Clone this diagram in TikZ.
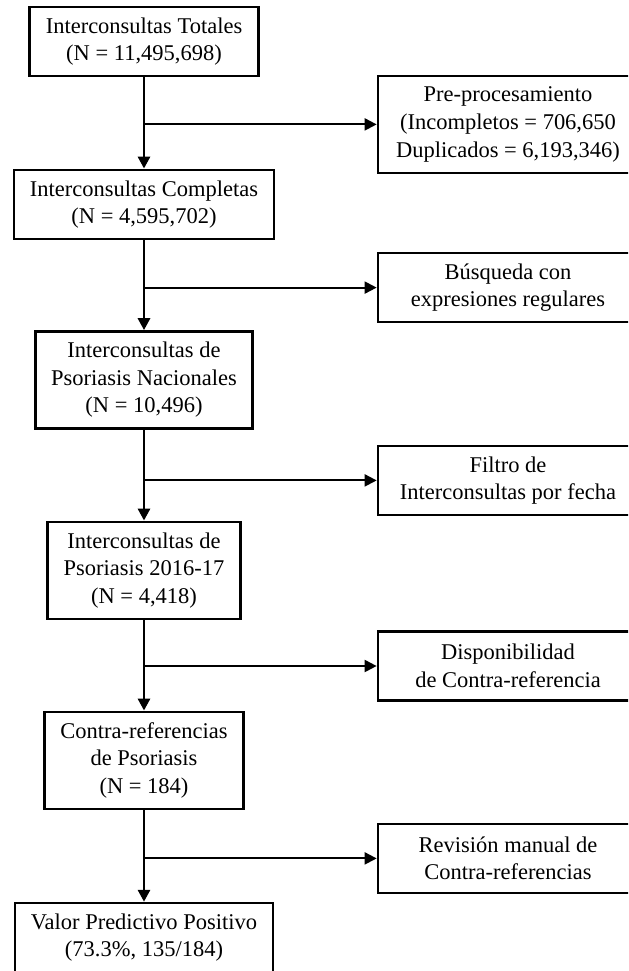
\documentclass[tikz,border=0pt]{standalone}
\usepackage{fontspec}
\setmainfont{Liberation Serif}
\usetikzlibrary{arrows.meta, positioning}

\begin{document}
\begin{tikzpicture}[font=\fontsize{16}{19.6}\selectfont,
        stepbox/.style={rectangle, draw=black, line width=1.9pt, fill=white,
                     align=center, inner xsep=0.4cm, minimum height=1.725cm},
        tallbox/.style={stepbox, minimum height=2.425cm},
        sidebox/.style={stepbox, minimum width=6.5cm},
        flow/.style={-{Triangle[length=0.3cm, width=0.3cm]}, line width=2.1pt},
        branch/.style={-{Triangle[length=0.3cm, width=0.3cm]}, line width=1.4pt}
    ]
        \clip (0,0) rectangle (15.7,-24.275);
        % main column
        \node[stepbox] (tot)  at (3.6,-1.04)   {Interconsultas Totales\\(N = 11,495,698)};
        \node[stepbox] (comp) at (3.6,-5.11)   {Interconsultas Completas\\(N = 4,595,702)};
        \node[tallbox] (nac)  at (3.6,-9.5)    {Interconsultas de\\Psoriasis Nacionales\\(N = 10,496)};
        \node[tallbox] (fec)  at (3.6,-14.26)  {Interconsultas de\\Psoriasis 2016-17\\(N = 4,418)};
        \node[tallbox] (con)  at (3.6,-19.01)  {Contra-referencias\\de Psoriasis\\(N = 184)};
        \node[stepbox] (vpp)  at (3.6,-23.44)  {Valor Predictivo Positivo\\(73.3\%, 135/184)};
        % side steps
        \node[sidebox, minimum height=2.425cm] (pre) at (12.7,-3.11) {Pre-procesamiento\\(Incompletos = 706,650\\Duplicados = 6,193,346)};
        \node[sidebox] (bus) at (12.7,-7.19)  {Búsqueda con\\expresiones regulares};
        \node[sidebox] (fil) at (12.7,-12.01) {Filtro de\\Interconsultas por fecha};
        \node[sidebox] (dis) at (12.7,-16.65) {Disponibilidad\\de Contra-referencia};
        \node[sidebox] (rev) at (12.7,-21.46) {Revisión manual de\\Contra-referencias};
        \foreach \a/\b in {tot/comp, comp/nac, nac/fec, fec/con, con/vpp}
            \draw[flow] (\a) -- (\b);
        \foreach \a/\b in {tot/pre, comp/bus, nac/fil, fec/dis, con/rev}
            \draw[branch] (\a.south |- \b.west) -- (\b);
    \end{tikzpicture}
\end{document}
